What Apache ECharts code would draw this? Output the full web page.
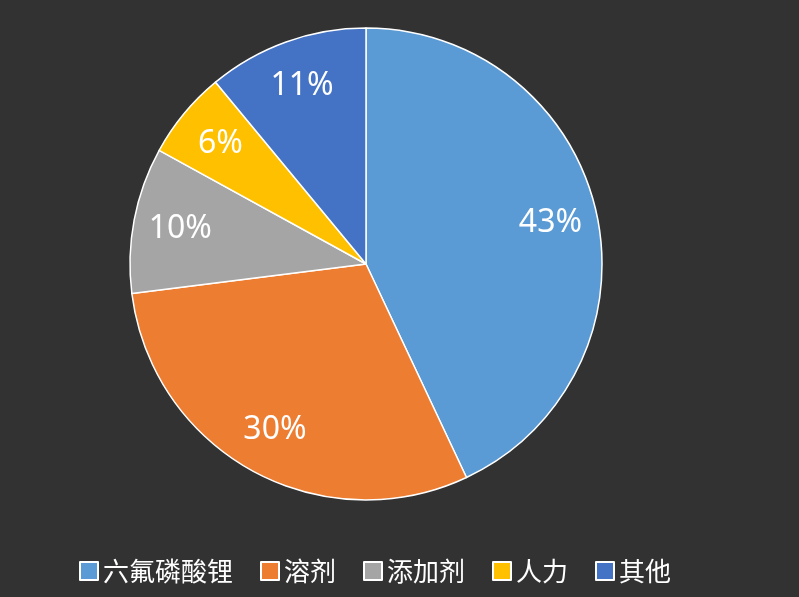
<!DOCTYPE html>
<html><head><meta charset="utf-8">
<script src="https://cdn.jsdelivr.net/npm/echarts@6/dist/echarts.min.js"></script>
<style>html,body{margin:0;padding:0;background:#323232}#c{width:799px;height:597px}</style>
</head><body><div id="c"></div>
<script>
const categories = ['六氟磷酸锂','溶剂','添加剂','人力','其他'];
const values = [43,30,10,6,11];
const colors = ['#5b9bd5','#ed7d31','#a5a5a5','#ffc000','#4472c4'];
const data = categories.map((n,i)=>({name:n,value:values[i],itemStyle:{color:colors[i]}}));
const chart = echarts.init(document.getElementById('c'));
chart.setOption({
  backgroundColor:'#323232',
  legend:{bottom:8,left:74,itemWidth:18,itemHeight:18,itemGap:27,icon:'rect',
    textStyle:{color:'#ffffff',fontSize:26,fontFamily:'Noto Sans CJK SC'},data:categories},
  series:[
    {type:'pie',center:[366,264],radius:[0,236],startAngle:90,clockwise:true,
     data:data,label:{show:false},labelLine:{show:false},
     itemStyle:{borderColor:'#ffffff',borderWidth:1.5},emphasis:{disabled:true},animation:false},
    {type:'pie',center:[366,264],radius:[136,236],startAngle:90,clockwise:true,silent:true,
     data:data.map(d=>({name:d.name,value:d.value,itemStyle:{color:'transparent'}})),
     label:{show:true,position:'inner',formatter:'{c}%',color:'#ffffff',fontSize:32,fontFamily:'Noto Sans'},
     labelLine:{show:false},legendHoverLink:false,animation:false}
  ]
});
</script></body></html>
